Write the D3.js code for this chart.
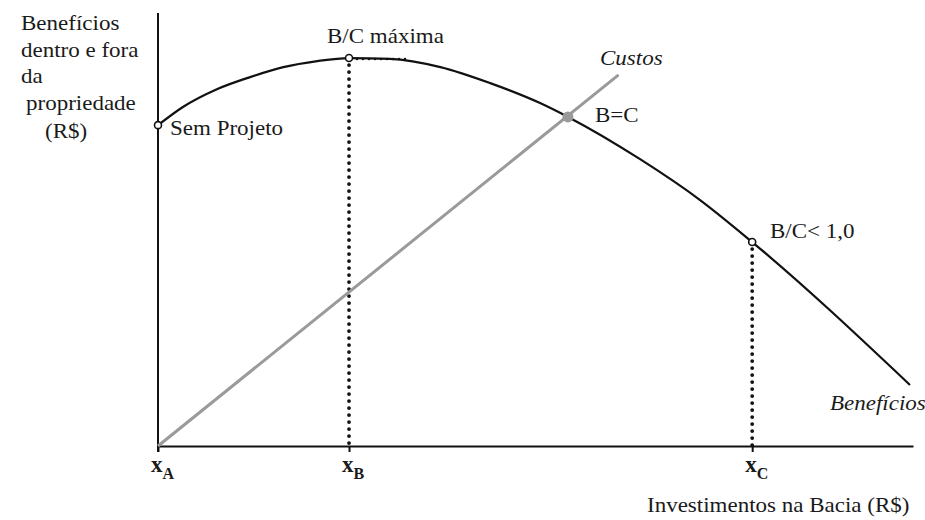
<!DOCTYPE html>
<html>
<head>
<meta charset="utf-8">
<script src="https://cdn.jsdelivr.net/npm/d3@7"></script>
<style>
  body { margin: 0; background: #fff; }
  svg text { font-family: "Liberation Serif", "Times New Roman", serif; fill: #1a1a1a; }
</style>
</head>
<body>
<div id="chart"></div>
<script>
// benefit curve (investment 0..100, value 0..100)
var benefitX = [0, 3.3, 7.8, 12.2, 16.6, 21.1, 25.3, 30.7, 37.4, 44.0, 50.6, 54.3, 63.8, 71.8, 78.7, 99.6];
var benefitY = [74.1, 78.3, 82.4, 85.2, 87.5, 88.9, 89.6, 89.4, 87.5, 83.8, 79.2, 76.0, 66.3, 56.8, 47.1, 14.1];

// cost line
var costX = [0, 61];
var costY = [0, 85.7];

var xTickValues = [0, 25.3, 78.7];
var xTickLetters = ['A', 'B', 'C'];

const W = 925, H = 520;
const STRETCH = 1.15; // the scanned text is a bit wide

var x = d3.scaleLinear().domain([0, 100]).range([158, 913]);
var y = d3.scaleLinear().domain([0, 100]).range([446, 13]);

var svg = d3.select('#chart').append('svg')
  .attr('width', W)
  .attr('height', H);

function label(tx, ty, str, italic) {
  svg.append('text')
    .attr('transform', `translate(${tx},${ty}) scale(${STRETCH},1)`)
    .style('font-size', '20px')
    .style('font-style', italic ? 'italic' : 'normal')
    .text(str);
}

// axes
svg.append('line')
  .attr('x1', x(0)).attr('x2', x(0))
  .attr('y1', y(100)).attr('y2', y(0) + 6)
  .attr('stroke', '#111').attr('stroke-width', 2);

var xAxis = svg.append('g')
  .attr('transform', `translate(0,${y(0)})`)
  .call(d3.axisBottom(x).tickValues(xTickValues).tickSize(6).tickSizeOuter(0).tickFormat(''));
xAxis.select('.domain').attr('stroke', '#111').attr('stroke-width', 2);
xAxis.selectAll('.tick line').attr('stroke', '#111').attr('stroke-width', 2);

// x tick labels with subscripts
xTickValues.forEach((v, i) => {
  var t = svg.append('text')
    .attr('x', x(v) - 7)
    .attr('y', 472)
    .style('font-weight', 'bold')
    .style('font-size', '23px');
  t.append('tspan').text('x');
  t.append('tspan').attr('dy', 7).style('font-size', '16px').text(xTickLetters[i]);
});

// dotted guides
var dot = { stroke: '#111', width: 3.8, dash: '0,7' };
[[xTickValues[1], benefitY[6]], [xTickValues[2], benefitY[14]]].forEach((p) => {
  svg.append('line')
    .attr('x1', x(p[0])).attr('x2', x(p[0]))
    .attr('y1', y(p[1]) + 7).attr('y2', y(0))
    .attr('stroke', dot.stroke)
    .attr('stroke-width', dot.width)
    .attr('stroke-linecap', 'round')
    .attr('stroke-dasharray', dot.dash);
});
// small tangent marks at the maximum
svg.append('line')
  .attr('x1', x(xTickValues[1]) + 8).attr('x2', x(xTickValues[1]) + 62)
  .attr('y1', y(benefitY[6]) + 1).attr('y2', y(benefitY[6]) + 1)
  .attr('stroke', '#111').attr('stroke-width', 2.6)
  .attr('stroke-linecap', 'round').attr('stroke-dasharray', '0,6');

// costs
var costData = costX.map((v, i) => [v, costY[i]]);
svg.append('path')
  .datum(costData)
  .attr('d', d3.line().x((d) => x(d[0])).y((d) => y(d[1])))
  .attr('fill', 'none')
  .attr('stroke', '#9a9a9a')
  .attr('stroke-width', 3);

// benefits
var benefitData = benefitX.map((v, i) => [v, benefitY[i]]);
svg.append('path')
  .datum(benefitData)
  .attr('d', d3.line().curve(d3.curveMonotoneX).x((d) => x(d[0])).y((d) => y(d[1])))
  .attr('fill', 'none')
  .attr('stroke', '#111')
  .attr('stroke-width', 2.2);

// B = C point
svg.append('circle')
  .attr('cx', x(benefitX[11])).attr('cy', y(benefitY[11]))
  .attr('r', 5.5)
  .attr('fill', '#9a9a9a');

// open markers
[0, 6, 14].forEach((i) => {
  svg.append('circle')
    .attr('cx', x(benefitX[i])).attr('cy', y(benefitY[i]))
    .attr('r', 3.5)
    .attr('fill', '#fff')
    .attr('stroke', '#111')
    .attr('stroke-width', 1.6);
});

// y axis title
label(21, 30, 'Benefícios');
label(21, 57, 'dentro e fora');
label(21, 83, 'da');
label(26, 110, 'propriedade');
label(45, 138, '(R$)');

// annotations
label(170, 135, 'Sem Projeto');
label(327, 43, 'B/C máxima');
label(600, 65, 'Custos', true);
label(595, 122, 'B=C');
label(770, 238, 'B/C< 1,0');
label(830, 410, 'Benefícios', true);
label(647, 512, 'Investimentos na Bacia (R$)');
</script>
</body>
</html>
